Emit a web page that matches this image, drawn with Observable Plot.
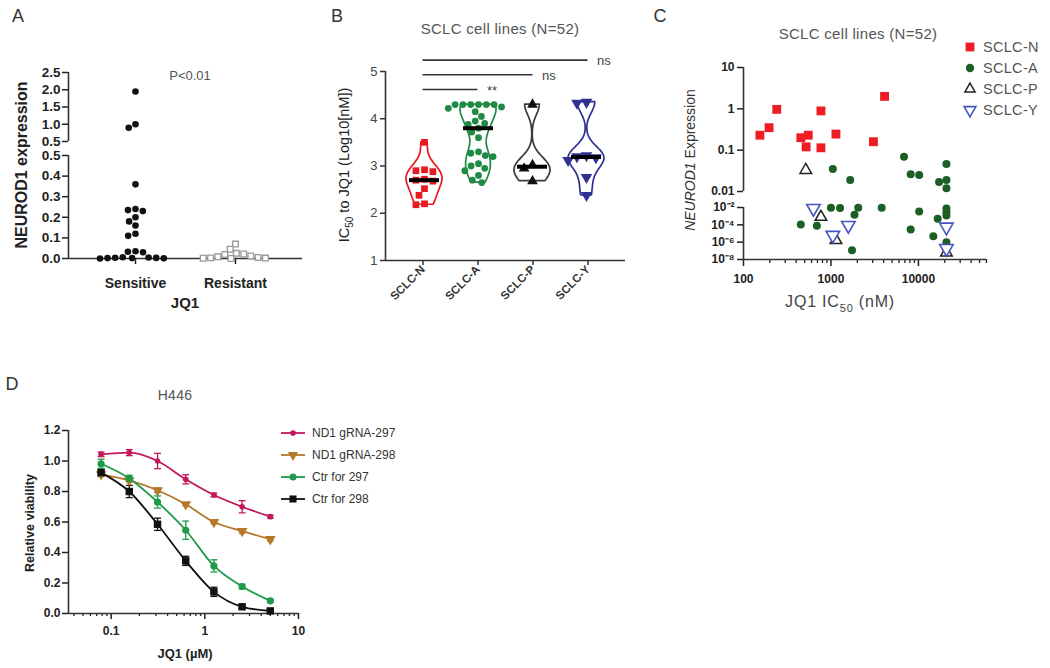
<!DOCTYPE html>
<html>
<head>
<meta charset="utf-8">
<script src="https://cdn.jsdelivr.net/npm/d3@7"></script>
<script src="https://cdn.jsdelivr.net/npm/@observablehq/plot@0.6"></script>
<style>
html,body{margin:0;padding:0;background:#fff;}
#root{position:relative;width:1050px;height:668px;overflow:hidden;font-family:"Liberation Sans",Arial,sans-serif;}
#root svg{overflow:visible;}
</style>
</head>
<body>
<div id="root"></div>
<script>
// ---------------- DATA ----------------
// Panel A
const aCategories = ["Sensitive", "Resistant"];
const aSensitive = [1.95, 1.0, 0.9, 0.36, 0.24, 0.235, 0.23, 0.2, 0.18, 0.16, 0.12, 0.11, 0.035, 0.033, 0.03, 0.006, 0.005, 0.004, 0.003, 0.002, 0.002, 0.001, 0.0];
const aResistant = [0.07, 0.045, 0.025, 0.022, 0.02, 0.012, 0.008, 0.005, 0.003, 0.002, 0.001, 0.0];
const aUpperTicks = [0.5, 1.0, 1.5, 2.0, 2.5];
const aLowerTicks = [0, 0.1, 0.2, 0.3, 0.4, 0.5];

// Panel B
const bGroups = ["SCLC-N", "SCLC-A", "SCLC-P", "SCLC-Y"];
const bN = [3.5, 2.92, 2.9, 2.88, 2.72, 2.7, 2.68, 2.52, 2.38, 2.2, 2.18];
const bA = [4.3, 4.3, 4.3, 4.3, 4.3, 4.3, 4.25, 4.22, 4.15, 4.05, 3.95, 3.9, 3.88, 3.8, 3.72, 3.6, 3.3, 3.27, 3.22, 3.2, 3.05, 3.0, 2.95, 2.9, 2.8, 2.7, 2.65];
const bP = [4.3, 3.02, 2.95, 2.68];
const bY = [4.35, 4.33, 3.22, 3.2, 3.18, 3.12, 2.76, 2.38];
const bYTicks = [1, 2, 3, 4, 5];
const bComparisons = [{to: "SCLC-A", mark: "**"}, {to: "SCLC-P", mark: "ns"}, {to: "SCLC-Y", mark: "ns"}];

// Panel C
const cGroups = ["SCLC-N", "SCLC-A", "SCLC-P", "SCLC-Y"];
const cN_ic50 = [154, 196, 240, 452, 550, 520, 768, 768, 1140, 3060, 4100];
const cN_expr = [0.23, 0.35, 0.97, 0.2, 0.23, 0.12, 0.89, 0.114, 0.245, 0.16, 2.0];
const cA_ic50 = [1050, 1660, 6840, 8150, 10200, 20900, 17200, 20900, 20900, 452, 690, 1000, 1270, 1860, 2050, 1740, 3800, 8150, 10200, 14800, 16600, 20900, 20900, 20900, 20900];
const cA_expr = [0.035, 0.019, 0.069, 0.026, 0.025, 0.046, 0.017, 0.019, 0.012, 1.1e-4, 8e-5, 0.0095, 0.009, 1.5e-3, 0.0095, 1.2e-7, 0.0095, 2.8e-5, 3.5e-3, 4.9e-6, 5e-4, 2.9e-3, 1.2e-3, 0.0075, 1e-6];
const cP_ic50 = [515, 768, 1140, 20900];
const cP_expr = [0.033, 8e-4, 1.7e-6, 6e-8];
const cY_ic50 = [630, 1050, 1580, 20900, 20900];
const cY_expr = [0.008, 6.3e-6, 8.7e-5, 5.6e-5, 1.9e-7];
const cUpperTicks = [0.01, 0.1, 1, 10];
const cLowerTicks = [1e-8, 1e-6, 1e-4, 1e-2];
const cXTicks = [100, 1000, 10000];

// Panel D
const dConc = [0.078, 0.156, 0.3125, 0.625, 1.25, 2.5, 5];
const dSeries = ["ND1 gRNA-297", "ND1 gRNA-298", "Ctr for 297", "Ctr for 298"];
const dND297 = [1.044, 1.055, 1.0, 0.88, 0.777, 0.70, 0.635];
const dND297err = [0.015, 0.02, 0.05, 0.03, 0.012, 0.04, 0.01];
const dND298 = [0.913, 0.873, 0.808, 0.716, 0.60, 0.54, 0.487];
const dND298err = [0.015, 0.01, 0.015, 0.01, 0.012, 0.012, 0.012];
const dCtr297 = [0.982, 0.886, 0.731, 0.546, 0.312, 0.177, 0.083];
const dCtr297err = [0.03, 0.02, 0.04, 0.06, 0.04, 0.015, 0.01];
const dCtr298 = [0.924, 0.80, 0.585, 0.345, 0.142, 0.044, 0.017];
const dCtr298err = [0.02, 0.04, 0.04, 0.03, 0.03, 0.01, 0.01];
const dYTicks = [0, 0.2, 0.4, 0.6, 0.8, 1.0, 1.2];
const dXTicks = [0.1, 1, 10];

// ---------------- HELPERS ----------------
const root = document.getElementById("root");
const FONT = '"Liberation Sans", Arial, sans-serif';
function put(node, left, top) {
  node.style.position = "absolute";
  node.style.left = left + "px";
  node.style.top = top + "px";
  root.appendChild(node);
  return node;
}
function label(html, x, y, css, anchor, rot) {
  const d = document.createElement("div");
  d.innerHTML = html;
  const tx = anchor === "start" ? "0" : "-50%";
  d.style.cssText = `position:absolute;white-space:nowrap;line-height:1;left:${x}px;top:${y}px;transform:translate(${tx},-50%)${rot ? ` rotate(${rot}deg)` : ""};${css}`;
  root.appendChild(d);
}
const triDown = {
  draw(ctx, size) {
    const s = Math.sqrt(4 * size / Math.sqrt(3)), h = s * Math.sqrt(3) / 2;
    ctx.moveTo(-s / 2, -h / 3); ctx.lineTo(s / 2, -h / 3); ctx.lineTo(0, 2 * h / 3); ctx.closePath();
  }
};
const hbar = {
  draw(ctx, size) { const w = Math.sqrt(size) * 1.3; ctx.moveTo(-w / 2, 0); ctx.lineTo(w / 2, 0); }
};
function baseStyle(extra) {
  return Object.assign({background: "transparent", overflow: "visible", fontFamily: FONT}, extra || {});
}

// ---------------- PANEL A ----------------
const aPad = 0.67;
const aRows = [
  ...aSensitive.map(v => ({cat: "Sensitive", v})),
  ...aResistant.map(v => ({cat: "Resistant", v}))
];
const aXDomain = [-aPad, aCategories.length - 1 + aPad];
const aAxisStyle = baseStyle({fontSize: "13.5px", fontWeight: "bold", color: "#222"});

// upper segment (0.5 - 2.5)
put(Plot.plot({
  width: 312, height: 83, marginLeft: 68, marginRight: 10, marginTop: 12, marginBottom: 2,
  style: aAxisStyle,
  x: {domain: aXDomain, axis: null},
  y: {domain: [0.5, 2.5]},
  marks: [
    Plot.axisY({ticks: aUpperTicks, tickFormat: d3.format(".1f"), tickSize: 6, tickPadding: 2, label: null, strokeWidth: 1.5}),
    Plot.ruleX([-aPad], {stroke: "#333", strokeWidth: 1.6})
  ]
}), 0, 60);
put(Plot.plot({
  width: 312, height: 83, marginLeft: 68, marginRight: 10, marginTop: 12, marginBottom: 2,
  style: baseStyle(),
  fx: {domain: aCategories, paddingInner: 0, paddingOuter: aPad - 0.5, axis: null, label: null},
  y: {domain: [0.5, 2.5], axis: null},
  marks: [
    Plot.dot(aRows.filter(d => d.cat === "Sensitive" && d.v > 0.5), Plot.dodgeX("middle", {fx: "cat", y: "v", r: 3.3, fill: "#111", padding: 0.3}))
  ]
}), 0, 60);

// lower segment (0 - 0.5)
put(Plot.plot({
  width: 312, height: 169, marginLeft: 68, marginRight: 10, marginTop: 14, marginBottom: 52,
  style: aAxisStyle,
  x: {domain: aXDomain},
  y: {domain: [0, 0.5]},
  marks: [
    Plot.axisY({ticks: aLowerTicks, tickFormat: d3.format(".1f"), tickSize: 6, tickPadding: 2, label: null, strokeWidth: 1.5}),
    Plot.axisX({ticks: d3.range(aCategories.length), tickFormat: i => aCategories[i], tickSize: 6, tickPadding: 14, label: null, fontSize: 14, strokeWidth: 1.5}),
    Plot.ruleX([-aPad], {stroke: "#333", strokeWidth: 1.6}),
    Plot.ruleY([0], {stroke: "#333", strokeWidth: 1.6})
  ]
}), 0, 141);
put(Plot.plot({
  width: 312, height: 169, marginLeft: 68, marginRight: 10, marginTop: 14, marginBottom: 52,
  style: baseStyle(),
  fx: {domain: aCategories, paddingInner: 0, paddingOuter: aPad - 0.5, axis: null, label: null},
  y: {domain: [0, 0.5], axis: null},
  marks: [
    Plot.dot(aRows.filter(d => d.cat === "Resistant" && d.v <= 0.5), Plot.dodgeX("middle", {fx: "cat", y: "v", r: 3.2, symbol: "square", fill: "white", stroke: "#999", strokeWidth: 1.3, padding: 0.2})),
    Plot.dot(aRows.filter(d => d.cat === "Sensitive" && d.v <= 0.5), Plot.dodgeX("middle", {fx: "cat", y: "v", r: 3.3, fill: "#111", padding: 0.2}))
  ]
}), 0, 141);

label("A", 18, 16, "font-size:18px;color:#333;");
label("NEUROD1 expression", 22, 165, "font-size:16px;font-weight:bold;color:#222;", "middle", -90);
label("P&lt;0.01", 190, 75, "font-size:13px;color:#555;");
label("JQ1", 185, 302, "font-size:15px;font-weight:bold;color:#222;");

// ---------------- PANEL B ----------------
const bPad = 0.682;
const bColors = ["#e8191f", "#1f8a43", "#3a3a3a", "#2e3192"];
const bValues = [bN, bA, bP, bY];
const bRows = bGroups.flatMap((g, i) => bValues[i].map(v => ({g, v})));
function kde(vals, bw, steps) {
  const lo = d3.min(vals), hi = d3.max(vals);
  const rows = d3.range(steps + 1).map(i => {
    const y = lo + (hi - lo) * i / steps;
    return {y, d: d3.sum(vals, v => Math.exp(-0.5 * ((y - v) / bw) ** 2))};
  });
  const m = d3.max(rows, r => r.d);
  rows.forEach(r => r.w = r.d / m);
  return rows;
}
const bViolin = bGroups.flatMap((g, i) => kde(bValues[i], 0.22, 80).map(r => ({g, ...r})));
const bMedians = bGroups.map((g, i) => ({g, m: d3.median(bValues[i])}));
const bTop = d3.max(bRows, d => d.v);

put(Plot.plot({
  width: 325, height: 280, marginLeft: 45, marginRight: 40, marginTop: 31, marginBottom: 60,
  style: baseStyle({fontSize: "13px", color: "#333"}),
  x: {domain: [-bPad, bGroups.length - 1 + bPad]},
  y: {domain: [1, 5]},
  marks: [
    Plot.axisY({ticks: bYTicks, tickFormat: d => String(d), tickSize: 5, tickPadding: 3, label: null, strokeWidth: 1.5, fill: "#444"}),
    Plot.axisX({ticks: d3.range(bGroups.length), tickFormat: i => bGroups[i], tickSize: 5, tickRotate: -45, tickPadding: 2, label: null, fontWeight: "bold", fontSize: 11.5, strokeWidth: 1.5}),
    Plot.ruleX([-bPad], {stroke: "#333", strokeWidth: 1.6}),
    Plot.ruleY([1], {stroke: "#333", strokeWidth: 1.6}),
    Plot.ruleY(bComparisons, {x1: () => 0, x2: d => bGroups.indexOf(d.to), y: (d, i) => bTop + 0.27 + i * 0.31, stroke: "#333", strokeWidth: 1.6}),
    Plot.text(bComparisons, {x: d => bGroups.indexOf(d.to), y: (d, i) => bTop + 0.27 + i * 0.31, text: "mark", dx: 9, dy: 1, textAnchor: "start", fontSize: 13, fill: "#444"})
  ]
}), 340, 40);

put(Plot.plot({
  width: 325, height: 280, marginLeft: 45, marginRight: 40, marginTop: 31, marginBottom: 60,
  style: baseStyle(),
  fx: {domain: bGroups, paddingInner: 0, paddingOuter: bPad - 0.5, axis: null, label: null},
  x: {domain: [-1.5, 1.5], axis: null},
  y: {domain: [1, 5], axis: null},
  color: {domain: bGroups, range: bColors},
  marks: [
    Plot.areaX(bViolin, {fx: "g", y: "y", x1: d => -d.w, x2: "w", fill: "white", stroke: "g", strokeWidth: 1.7, curve: "basis"}),
    Plot.dot(bRows.filter(d => d.g === "SCLC-N"), Plot.dodgeX("middle", {fx: "g", y: "v", r: 3.8, symbol: "square", fill: bColors[0], padding: 0.5})),
    Plot.dot(bRows.filter(d => d.g === "SCLC-A"), Plot.dodgeX("middle", {fx: "g", y: "v", r: 3.4, fill: bColors[1], padding: 0.2})),
    Plot.dot(bRows.filter(d => d.g === "SCLC-P"), Plot.dodgeX("middle", {fx: "g", y: "v", r: 4, symbol: "triangle", fill: "#111", padding: 0.5})),
    Plot.dot(bRows.filter(d => d.g === "SCLC-Y"), Plot.dodgeX("middle", {fx: "g", y: "v", r: 4.3, symbol: triDown, fill: bColors[3], padding: 0.5})),
    Plot.ruleY(bMedians, {fx: "g", y: "m", stroke: "#000", strokeWidth: 4, insetLeft: 12, insetRight: 12})
  ]
}), 340, 40);

label("B", 337, 16, "font-size:18px;color:#333;");
label("SCLC cell lines (N=52)", 500, 28, "font-size:15px;color:#555;letter-spacing:0.3px;");
label("IC<sub style='font-size:10px'>50</sub> to JQ1 (Log10[nM])", 346, 165, "font-size:14.5px;color:#222;", "middle", -90);

// ---------------- PANEL C ----------------
const cStyles = {
  "SCLC-N": {symbol: "square", r: 5, fill: "#ee1c25", stroke: "none", strokeWidth: 0},
  "SCLC-A": {symbol: "circle", r: 4, fill: "#1d5e26", stroke: "none", strokeWidth: 0},
  "SCLC-P": {symbol: "triangle", r: 4.3, fill: "white", stroke: "#222", strokeWidth: 1.5},
  "SCLC-Y": {symbol: triDown, r: 5, fill: "white", stroke: "#4455c0", strokeWidth: 1.6}
};
const cRows = [
  ...cN_ic50.map((x, i) => ({g: "SCLC-N", x, y: cN_expr[i]})),
  ...cA_ic50.map((x, i) => ({g: "SCLC-A", x, y: cA_expr[i]})),
  ...cP_ic50.map((x, i) => ({g: "SCLC-P", x, y: cP_expr[i]})),
  ...cY_ic50.map((x, i) => ({g: "SCLC-Y", x, y: cY_expr[i]}))
];
const cXDomain = [100, 60000];
const cMinor = [100, 1000, 10000].flatMap(b => d3.range(2, 10).map(k => k * b)).filter(v => v <= cXDomain[1]);
const sup = {"-": "\u207b", "0": "\u2070", "1": "\u00b9", "2": "\u00b2", "3": "\u00b3", "4": "\u2074", "5": "\u2075", "6": "\u2076", "7": "\u2077", "8": "\u2078", "9": "\u2079"};
const powFmt = d => "10" + String(Math.round(Math.log10(d))).replace(/./g, c => sup[c]);
function cDots(filter) {
  return cGroups.map(g => Plot.dot(cRows.filter(d => d.g === g && filter(d)), {x: "x", y: "y", ...cStyles[g]}));
}
const cAxisStyle = baseStyle({fontSize: "12px", fontWeight: "bold", color: "#222"});

put(Plot.plot({
  width: 316, height: 138, marginLeft: 63, marginRight: 10, marginTop: 12, marginBottom: 2,
  style: cAxisStyle,
  x: {type: "log", domain: cXDomain, axis: null},
  y: {type: "log", domain: [0.01, 10]},
  marks: [
    Plot.axisY({ticks: cUpperTicks, tickFormat: d => String(d), tickSize: 6, tickPadding: 3, label: null, strokeWidth: 1.5}),
    Plot.ruleX([cXDomain[0]], {stroke: "#333", strokeWidth: 1.6}),
    ...cDots(d => d.y >= 0.01)
  ]
}), 680, 55);

put(Plot.plot({
  width: 316, height: 129, marginLeft: 63, marginRight: 10, marginTop: 16, marginBottom: 61,
  style: cAxisStyle,
  x: {type: "log", domain: cXDomain},
  y: {type: "log", domain: [1e-8, 1e-2]},
  marks: [
    Plot.axisY({ticks: cLowerTicks, tickFormat: powFmt, tickSize: 6, tickPadding: 3, label: null, strokeWidth: 1.5}),
    Plot.axisX({ticks: cXTicks, tickFormat: d => String(d), tickSize: 7, tickPadding: 8, label: null, strokeWidth: 1.5}),
    Plot.axisX({ticks: cMinor, tickFormat: () => "", tickSize: 4, label: null, strokeWidth: 1.3}),
    Plot.ruleX([cXDomain[0]], {stroke: "#333", strokeWidth: 1.6}),
    Plot.ruleY([1e-8], {stroke: "#333", strokeWidth: 1.6}),
    ...cDots(d => d.y < 0.01)
  ]
}), 680, 191);

label("C", 660, 16, "font-size:18px;color:#333;");
label("SCLC cell lines (N=52)", 858, 33, "font-size:15px;color:#555;letter-spacing:0.3px;");
label("<i>NEUROD1</i> Expression", 690, 160, "font-size:14px;color:#333;", "middle", -90);
label("JQ1 IC<sub style='font-size:11px'>50</sub> (nM)", 840, 304, "font-size:16px;color:#444;letter-spacing:0.8px;");

// legend C
function legendItem(cx, cy, sym, area, fill, stroke, sw, line, text, tx, css) {
  const path = d3.symbol(sym, area)();
  root.insertAdjacentHTML("beforeend",
    `<svg width="30" height="20" style="position:absolute;left:${cx - 15}px;top:${cy - 10}px;overflow:visible">` +
    (line ? `<line x1="3" x2="27" y1="10" y2="10" stroke="${line}" stroke-width="1.8"/>` : "") +
    `<path d="${path}" transform="translate(15,10)" fill="${fill}" stroke="${stroke}" stroke-width="${sw}"/></svg>`);
  label(text, tx, cy, css, "start");
}
const cLegendCss = "font-size:14.5px;color:#555;letter-spacing:0.3px;";
legendItem(970, 47, d3.symbolSquare, 78, "#ee1c25", "none", 0, null, "SCLC-N", 983, cLegendCss);
legendItem(970, 68, d3.symbolCircle, 55, "#1d5e26", "none", 0, null, "SCLC-A", 983, cLegendCss);
legendItem(970, 89, d3.symbolTriangle, 45, "white", "#222", 1.5, null, "SCLC-P", 983, cLegendCss);
legendItem(970, 110, triDown, 60, "white", "#4455c0", 1.6, null, "SCLC-Y", 983, cLegendCss);

// ---------------- PANEL D ----------------
const dColors = ["#c2185b", "#b5782b", "#1e9a49", "#111111"];
const dValues = [dND297, dND298, dCtr297, dCtr298];
const dErrors = [dND297err, dND298err, dCtr297err, dCtr298err];
const dSymbols = [{symbol: "circle", r: 2.8}, {symbol: triDown, r: 4}, {symbol: "circle", r: 3.6}, {symbol: "square", r: 4.2}];
const dRows = dSeries.flatMap((s, i) => dConc.map((c, j) => ({s, c, v: dValues[i][j], e: dErrors[i][j]})));
const dXDomain = [0.035, 10];
const dMinor = [0.01, 0.1, 1].flatMap(b => d3.range(2, 10).map(k => +(k * b).toPrecision(3))).filter(v => v >= dXDomain[0] && v <= dXDomain[1]);

put(Plot.plot({
  width: 310, height: 253, marginLeft: 68, marginRight: 12, marginTop: 15, marginBottom: 55,
  style: baseStyle({fontSize: "12px", fontWeight: "bold", color: "#222"}),
  x: {type: "log", domain: dXDomain},
  y: {domain: [0, 1.2]},
  color: {domain: dSeries, range: dColors},
  marks: [
    Plot.axisY({ticks: dYTicks, tickFormat: d3.format(".1f"), tickSize: 6, tickPadding: 2, label: null, strokeWidth: 1.5}),
    Plot.axisX({ticks: dXTicks, tickFormat: d => String(d), tickSize: 6, tickPadding: 7, label: null, strokeWidth: 1.5}),
    Plot.axisX({ticks: dMinor, tickFormat: () => "", tickSize: 3, label: null, strokeWidth: 1.3}),
    Plot.ruleX([dXDomain[0]], {stroke: "#333", strokeWidth: 1.6}),
    Plot.ruleY([0], {stroke: "#333", strokeWidth: 1.6}),
    Plot.line(dRows, {x: "c", y: "v", z: "s", stroke: "s", strokeWidth: 1.8, curve: "monotone-x"}),
    Plot.ruleX(dRows, {x: "c", y1: d => d.v - d.e, y2: d => d.v + d.e, stroke: "s", strokeWidth: 1.3}),
    Plot.dot(dRows, {x: "c", y: d => d.v + d.e, symbol: hbar, r: 3, fill: "none", stroke: "s", strokeWidth: 1.3}),
    Plot.dot(dRows, {x: "c", y: d => d.v - d.e, symbol: hbar, r: 3, fill: "none", stroke: "s", strokeWidth: 1.3}),
    ...dSeries.map((s, i) => Plot.dot(dRows.filter(d => d.s === s), {x: "c", y: "v", fill: dColors[i], ...dSymbols[i]}))
  ]
}), 0, 415);

label("D", 12, 384, "font-size:18px;color:#333;");
label("H446", 175, 395, "font-size:14px;color:#555;letter-spacing:0.3px;");
label("Relative viability", 30, 523, "font-size:12.5px;font-weight:bold;color:#222;", "middle", -90);
label("JQ1 (\u00b5M)", 185, 653, "font-size:13px;font-weight:bold;color:#222;");

const dLegendCss = "font-size:12px;color:#333;";
const dLegendSyms = [[d3.symbolCircle, 25], [triDown, 45], [d3.symbolCircle, 40], [d3.symbolSquare, 50]];
dSeries.forEach((s, i) => {
  legendItem(293, 433 + i * 22, dLegendSyms[i][0], dLegendSyms[i][1], dColors[i], "none", 0, dColors[i], s, 312, dLegendCss);
});
</script>
</body>
</html>
